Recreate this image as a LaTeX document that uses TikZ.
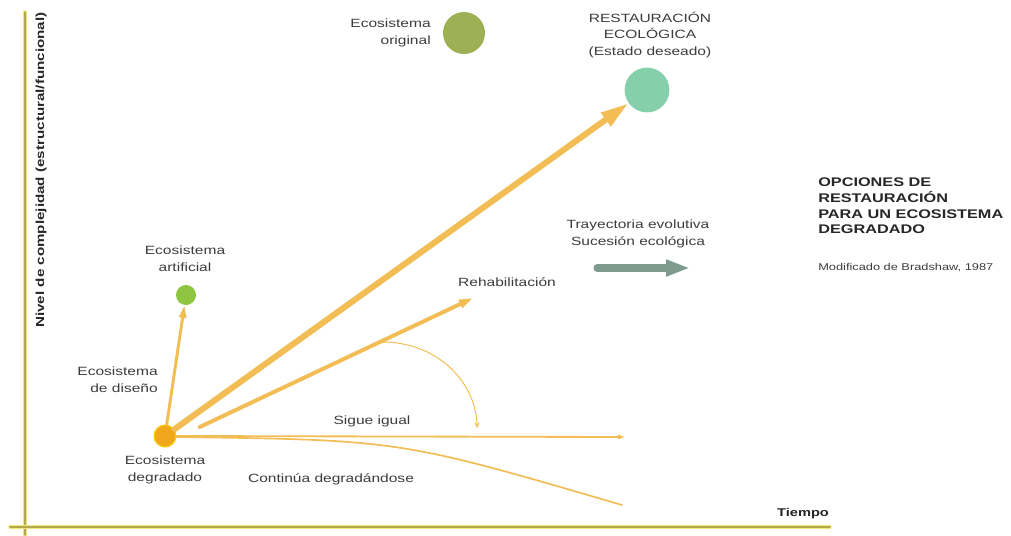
\documentclass[tikz,border=0pt]{standalone}
\usepackage{fontspec}
\setmainfont{Liberation Sans}[FakeStretch=1.3]
\usetikzlibrary{arrows.meta, positioning}
\definecolor{axishalo}{HTML}{F0E67E}
\definecolor{axiscore}{HTML}{B4A84A}
\definecolor{trackorange}{HTML}{F3BD55}
\definecolor{degorange}{HTML}{F1A71B}
\definecolor{artgreen}{HTML}{8DC540}
\definecolor{origolive}{HTML}{9DB054}
\definecolor{restmint}{HTML}{85D0AA}
\definecolor{trendgray}{HTML}{7F9B90}
\definecolor{labelgray}{HTML}{3C3C3C}
\tikzset{
  every picture/.style={line cap=round, line join=round},
  % ecosystem states
  state/.style={circle, inner sep=0pt, draw=none},
  lbl/.style={text=labelgray, font=\fontsize{8.5}{12}\selectfont, align=center, inner sep=0pt},
  boldlbl/.style={text=black!85, font=\fontsize{8.3}{11}\selectfont\bfseries, inner sep=0pt},
  % trajectories out of the degraded state
  track/.style={draw=trackorange, line width=#1},
  axisline/.style={draw=axiscore, line width=0.9pt, preaction={draw=axishalo, line width=2.6pt}},
  trend/.style={draw=trendgray, line width=5pt, -{Triangle[length=17pt, width=11pt]}},
}
\begin{document}
\begin{tikzpicture}[x=0.025cm, y=-0.025cm]
  \useasboundingbox (0,0) rectangle (1011,535);
  % ---- axes
  \coordinate (ytop) at (25,12);
  \coordinate (ybot) at (25,535);
  \coordinate (xleft) at (10,527);
  \coordinate (xright) at (830,527);
  \draw[axisline] (ytop) -- (ybot);
  \draw[axisline] (xleft) -- (xright);
  \node[boldlbl, rotate=90] (ylbl) at (41,170) {Nivel de complejidad (estructural/funcional)};
  \node[boldlbl, font=\fontsize{8}{10}\selectfont\bfseries] (tiempo) at (803,514) {Tiempo};
  % ---- states
  \node[state, fill=degorange, draw=degorange!55!yellow, line width=0.8pt, minimum size=0.55cm] (deg) at (165,436) {};
  \node[state, fill=artgreen, minimum size=0.5cm] (art) at (186,295) {};
  \node[state, fill=origolive, minimum size=1.05cm] (orig) at (464,33) {};
  \node[state, fill=restmint, minimum size=1.12cm] (rest) at (647,90) {};
  \node[lbl] (deglbl) at (165,470) {Ecosistema\\degradado};
  \node[lbl] (artlbl) at (185,259) {Ecosistema\\artificial};
  \node[lbl, align=right, anchor=east] (dislbl) at (158,380) {Ecosistema\\de diseño};
  \node[lbl, align=right, anchor=east] (origlbl) at (431,33) {Ecosistema\\original};
  \node[lbl] (restlbl) at (650,35) {RESTAURACIÓN\\ECOLÓGICA\\(Estado deseado)};
  % ---- trajectories
  \coordinate (rehabend) at (473,298);
  \coordinate (igualend) at (625,437);
  \coordinate (contend) at (622,505);
  \coordinate (arcstart) at (382,342);
  \coordinate (arcend) at (477,428);
  \draw[track=2.1pt, -{Triangle[length=9pt, width=5pt]}] (deg) -- (art);
  \draw[track=4.3pt, -{Triangle[length=20pt, width=11pt]}] (deg) -- (rest);
  \draw[track=2.8pt, -{Triangle[length=10pt, width=6pt]}, shorten <=18pt] (deg.-10) -- (rehabend);
  \draw[track=1.3pt, -{Triangle[length=5pt, width=3pt]}] (deg.east) -- (igualend);
  \draw[track=1.2pt] (deg.-5) .. controls (400,440) .. (contend);
  \draw[track=0.7pt, -{Straight Barb[length=3pt, width=3pt]}] (arcstart) .. controls (440,342) and (477,385) .. (arcend);
  \node[lbl] (rehablbl) at (507,282) {Rehabilitación};
  \node[lbl] (iguallbl) at (372,421) {Sigue igual};
  \node[lbl] (contlbl) at (331,479) {Continúa degradándose};
  % ---- legend
  \node[lbl] (trendlbl) at (638,234) {Trayectoria evolutiva\\Sucesión ecológica};
  \coordinate (trendtail) at (597,268);
  \coordinate (trendhead) at (690,268);
  \draw[trend] (trendtail) -- (trendhead);
  \node[anchor=west, align=left, inner sep=0pt, text=black!85, font=\fontsize{8.9}{11.2}\selectfont\bfseries] (title) at (818,206) {OPCIONES DE\\RESTAURACIÓN\\PARA UN ECOSISTEMA\\DEGRADADO};
  \node[anchor=west, inner sep=0pt, text=labelgray, font=\fontsize{7}{8}\selectfont] (source) at (818,268) {Modificado de Bradshaw, 1987};
\end{tikzpicture}
\end{document}
